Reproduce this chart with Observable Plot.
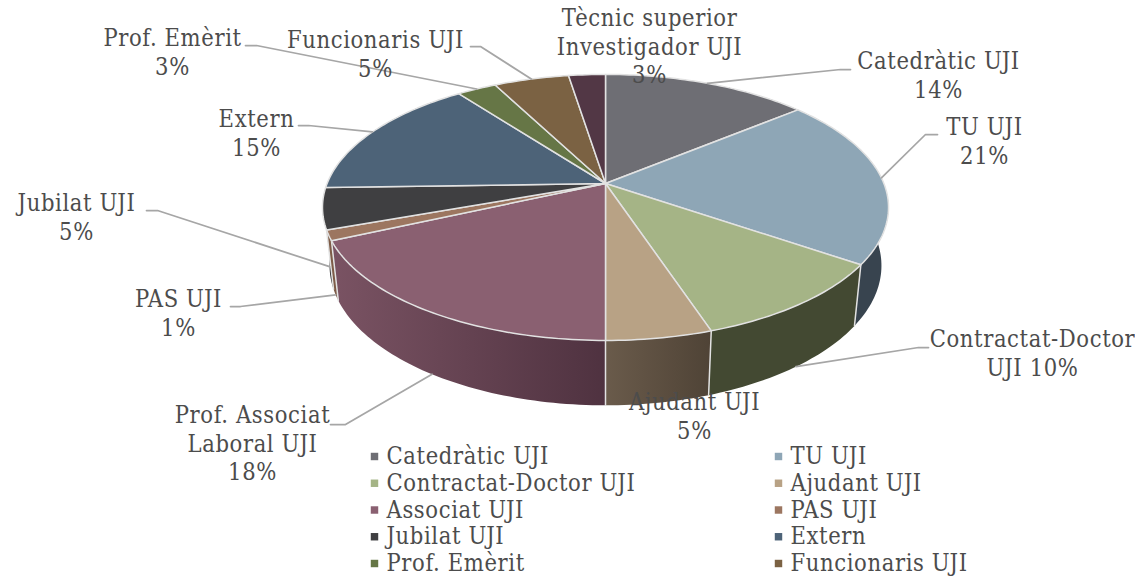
<!DOCTYPE html>
<html><head><meta charset="utf-8">
<style>html,body{margin:0;padding:0;background:#fff}svg{display:block}</style>
<script src="https://cdn.jsdelivr.net/npm/d3@7"></script>
<script src="https://cdn.jsdelivr.net/npm/@observablehq/plot@0.6"></script>
</head><body><div id="c"></div>
<script>
// --- data ---
const categories = ["Catedràtic UJI","TU UJI","Contractat-Doctor UJI","Ajudant UJI","Associat UJI","PAS UJI","Jubilat UJI","Extern","Prof. Emèrit","Funcionaris UJI","Tècnic superior Investigador UJI"];
const shares = [14,20.6,10.3,5.1,18.25,1.25,5,15.2,2.7,5.1,2.5];
const labelLines = [["Catedràtic UJI","14%"],["TU UJI","21%"],["Contractat-Doctor","UJI 10%"],["Ajudant UJI","5%"],["Prof. Associat","Laboral UJI","18%"],["PAS UJI","1%"],["Jubilat UJI","5%"],["Extern","15%"],["Prof. Emèrit","3%"],["Funcionaris UJI","5%"],["Tècnic superior","Investigador UJI","3%"]];
const legendCount = 10;
// --- styles ---
const topColors = ["#6e6e74","#8ea6b6","#a5b486","#b8a285","#8a6071","#9c7660","#3f3f41","#4d6378","#667646","#7b6243","#523745"];
const sideFrom = ["#4a4a4e","#38444f","#434932","#6a5b4b","#7a5363","#7d5c48","#2e2e30","#37485a","#4a5632","#5a4730","#3d2933"];
const sideTo   = ["#4a4a4e","#38444f","#434932","#4f4336","#4f3240","#7d5c48","#2e2e30","#37485a","#4a5632","#5a4730","#3d2933"];
const textColor = "#4c4c4c", leaderColor = "#a6a6a6", edgeColor = "#e2e2e2";
const font = "'DejaVu Serif Condensed','DejaVu Serif'", fontSize = 23.5, spacing = "0.62px";
// --- layout ---
const W = 1135, H = 576;
const pie = {cx:605, cy:183, A:278.4, B:128.7, k:0.18, sx:0.975, sy:1.05, drop:57};
const labelCenters = [[938,61],[984,127],[1032,339],[694,402],[252,415],[178,299],[76,203],[256,119],[172,38],[375,40],[649,18]];
const lineGap = 28.5;
const leaderKnees = [[[840,69],[850,69]],[[925,134],[937,134]],[[918,347],[928,347]],null,[[345,424],[330,424]],[[240,306],[230,306]],[[157,210],[146,210]],[[308,125],[298,125]],[[256,45],[245,45]],[[480,46],[470,46]],null];
const leaderOnBase = [false,false,true,false,true,true,true,false,false,false,false];
const legendCols = [[374,386],[778,790]], legendTop = 456, legendGap = 26.75;

// --- geometry, from the shares ---
const rad = p => p/100*2*Math.PI;
const topPt = t => {const w=1+pie.k*Math.cos(t); return [pie.cx+pie.A*Math.sin(t)/w, pie.cy-pie.B*Math.cos(t)/w];};
const basePt = t => {const [x,y]=topPt(t); return [pie.cx+(x-pie.cx)*pie.sx, pie.cy+(y-pie.cy)*pie.sy+pie.drop];};
let acc=0;
const slices = shares.map((v,i)=>{const a0=rad(acc); acc+=v; const a1=rad(acc); return {i,a0,a1,mid:(a0+a1)/2};});
const arc = (a0,a1,f) => {const n=Math.max(2,Math.ceil((a1-a0)/0.02)); return d3.range(n+1).map(j=>f(a0+(a1-a0)*j/n));};
const row = id => p => ({id,x:p[0],y:p[1]});

const topRows=[], edgeRows=[], leaderRows=[];
slices.forEach(s=>{
  [[pie.cx,pie.cy],...arc(s.a0,s.a1,topPt),[pie.cx,pie.cy]].forEach(p=>topRows.push({id:"t"+s.i,x:p[0],y:p[1],c:topColors[s.i]}));
  if(Math.sin(s.a1)<0.995 && Math.cos(s.a1)<-0.15) [topPt(s.a1),basePt(s.a1)].forEach(p=>edgeRows.push(row("e"+s.i)(p)));
  if(leaderKnees[s.i]) [(leaderOnBase[s.i]?basePt:topPt)(s.mid),...leaderKnees[s.i]].forEach(p=>leaderRows.push(row("l"+s.i)(p)));
});
const sideMarks=[...slices].sort((a,b)=>Math.cos(b.mid)-Math.cos(a.mid)).map(s=>{
  const rows=[...arc(s.a0,s.a1,topPt),...arc(s.a0,s.a1,basePt).reverse()].map(row("s"+s.i));
  return Plot.line(rows,{x:"x",y:"y",z:"id",fill:`url(#side${s.i})`,stroke:"none"});
});
const textRows=[];
labelLines.forEach((ls,i)=>ls.forEach((t,j)=>textRows.push({t,x:labelCenters[i][0],y:labelCenters[i][1]+j*lineGap})));
const legendRows=categories.slice(0,legendCount).map((t,i)=>({t,c:topColors[i],mx:legendCols[i%2][0],tx:legendCols[i%2][1],y:legendTop+Math.floor(i/2)*legendGap}));

const textOpts={fontSize,fontFamily:font,fill:textColor,lineAnchor:"middle"};
const chart=Plot.plot({
  width:W,height:H,margin:0,
  x:{domain:[0,W],range:[0,W],axis:null},
  y:{domain:[0,H],range:[0,H],axis:null},
  color:{type:"identity"},
  style:{background:"#fff",letterSpacing:spacing,fontStretch:"condensed"},
  marks:[
    ...sideMarks,
    Plot.line(edgeRows,{x:"x",y:"y",z:"id",stroke:edgeColor,strokeWidth:1.5}),
    Plot.line(topRows,{x:"x",y:"y",z:"id",fill:"c",stroke:edgeColor,strokeWidth:1.5,strokeLinejoin:"round"}),
    Plot.line(leaderRows,{x:"x",y:"y",z:"id",stroke:leaderColor,strokeWidth:1.75}),
    Plot.text(textRows,{x:"x",y:"y",text:"t",textAnchor:"middle",...textOpts}),
    Plot.dot(legendRows,{x:"mx",y:"y",fill:"c",symbol:"square",r:4.2}),
    Plot.text(legendRows,{x:"tx",y:"y",text:"t",textAnchor:"start",...textOpts})
  ]
});
const defs=d3.select(chart).insert("defs",":first-child");
slices.forEach(s=>{
  const g=defs.append("linearGradient").attr("id","side"+s.i);
  g.append("stop").attr("offset","0").attr("stop-color",sideFrom[s.i]);
  g.append("stop").attr("offset","1").attr("stop-color",sideTo[s.i]);
});
document.getElementById("c").append(chart);
</script></body></html>
